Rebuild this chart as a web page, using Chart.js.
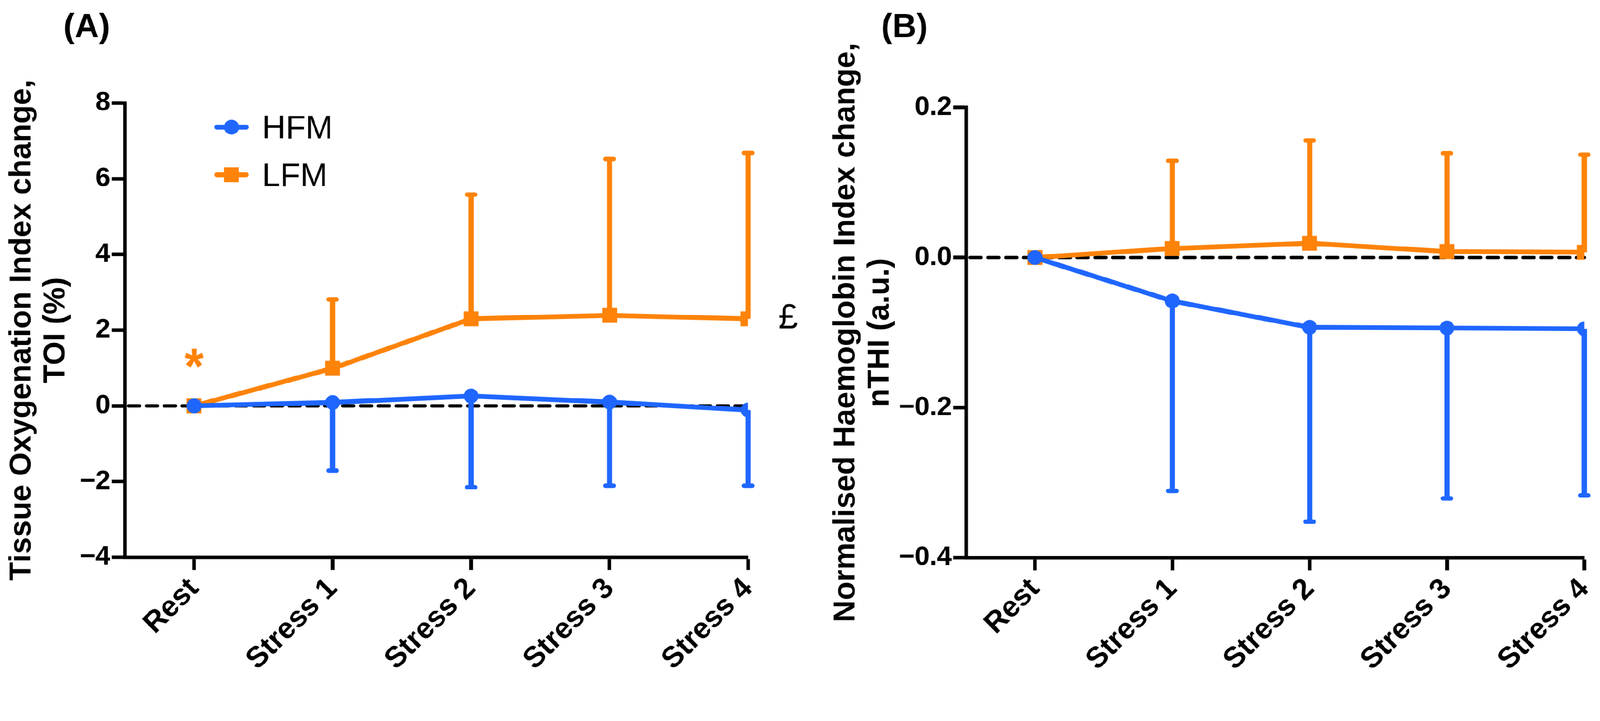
<!DOCTYPE html>
<html>
<head>
<meta charset="utf-8">
<title>TOI and nTHI change, HFM vs LFM</title>
<script src="https://cdn.jsdelivr.net/npm/chart.js@4.4.1/dist/chart.umd.min.js"></script>
<style>
  html, body { margin: 0; padding: 0; background: #fff; overflow: hidden; }
  #wrap { position: relative; width: 4307px; height: 1845px; overflow: hidden; transform-origin: 0 0; }
  canvas { position: absolute; top: 0; }
  #chartA { left: 0; }
  #chartB { left: 2150px; }
</style>
</head>
<body>
<div id="wrap">
  <canvas id="chartA" width="2150" height="1845"></canvas>
  <canvas id="chartB" width="2250" height="1845"></canvas>
</div>
<script>
const FONT = '"Liberation Sans", Arial, Helvetica, sans-serif';
const BLUE = "#1f66ff";
const ORANGE = "#fd8309";

// x categories (both panels)
const stages = ["Rest", "Stress 1", "Stress 2", "Stress 3", "Stress 4"];

// (A) tissue oxygenation index change, %
const toiHFM = [0, 0.09, 0.26, 0.10, -0.11];
const toiHFMErr = [0, -1.71, -2.15, -2.11, -2.11]; // end of one-sided error bar
const toiLFM = [0, 0.99, 2.30, 2.39, 2.30];
const toiLFMErr = [0, 2.81, 5.58, 6.52, 6.68];
const toiTicks = [-4, -2, 0, 2, 4, 6, 8];

// (B) normalised haemoglobin index change, a.u.
const thiHFM = [0, -0.058, -0.093, -0.094, -0.095];
const thiHFMErr = [0, -0.311, -0.352, -0.321, -0.317];
const thiLFM = [0, 0.012, 0.019, 0.008, 0.007];
const thiLFMErr = [0, 0.129, 0.156, 0.139, 0.137];
const thiTicks = [-0.4, -0.2, 0, 0.2];

// significance marks in panel A (x = category index, y = data value)
const toiMarks = [
  { x: 0, y: 0.97, text: "*", color: ORANGE, weight: "bold", size: 135 },
  { x: 4.29, y: 2.3, text: "\u00a3", color: "#000", weight: "normal", size: 94 },
];

// the figure is laid out at 4307 px wide; fit it to whatever the window really is
const S = window.innerWidth / 4307;
document.getElementById("wrap").style.transform = "scale(" + S + ")";
const DPR = (window.devicePixelRatio || 1) * S;

function fmt(v, dec) {
  const s = Math.abs(v).toFixed(dec);
  return v < 0 ? "\u2212" + s : s;
}

// dashed zero line + error bars, under the lines
const underlay = {
  id: "underlay",
  beforeDatasetsDraw(chart) {
    const { ctx, chartArea, scales } = chart;
    const y0 = scales.y.getPixelForValue(0);
    ctx.save();
    ctx.strokeStyle = "#000";
    ctx.lineWidth = 9;
    ctx.lineCap = "round";
    ctx.setLineDash([30, 18]);
    ctx.beginPath();
    ctx.moveTo(chartArea.left + 10, y0);
    ctx.lineTo(chartArea.right, y0);
    ctx.stroke();
    ctx.setLineDash([]);

    chart.data.datasets.forEach(ds => {
      ctx.strokeStyle = ds.borderColor;
      ds.data.forEach((p, i) => {
        const end = ds.err[i];
        if (end === p.y) return;
        const x = scales.x.getPixelForValue(p.x);
        const ya = scales.y.getPixelForValue(p.y);
        const yb = scales.y.getPixelForValue(end);
        ctx.lineWidth = 14;
        ctx.lineCap = "butt";
        ctx.beginPath();
        ctx.moveTo(x, ya);
        ctx.lineTo(x, yb);
        ctx.stroke();
        ctx.lineWidth = 12;
        ctx.lineCap = "round";
        ctx.beginPath();
        ctx.moveTo(x - 11, yb);
        ctx.lineTo(x + 11, yb);
        ctx.stroke();
      });
    });
    ctx.restore();
  }
};

// legend inside the plot, panel label, annotations
const overlay = {
  id: "overlay",
  afterDraw(chart, args, opts) {
    const { ctx, scales } = chart;
    ctx.save();
    ctx.fillStyle = "#000";
    ctx.textAlign = "left";
    ctx.textBaseline = "alphabetic";
    ctx.font = "bold 90px " + FONT;
    ctx.fillText(opts.panel, opts.panelX, 100);

    if (opts.legend) {
      const lg = opts.legend;
      chart.data.datasets.forEach((ds, i) => {
        const y = lg.y + i * lg.gap;
        ctx.strokeStyle = ds.borderColor;
        ctx.fillStyle = ds.backgroundColor;
        ctx.lineWidth = 13;
        ctx.lineCap = "round";
        ctx.beginPath();
        ctx.moveTo(lg.x - 40, y);
        ctx.lineTo(lg.x + 40, y);
        ctx.stroke();
        if (ds.pointStyle === "rect") {
          ctx.fillRect(lg.x - 20, y - 20, 40, 40);
        } else {
          ctx.beginPath();
          ctx.arc(lg.x, y, 20, 0, Math.PI * 2);
          ctx.fill();
        }
        ctx.fillStyle = "#000";
        ctx.font = "88px " + FONT;
        ctx.fillText(ds.label, lg.textX, y + 30);
      });
    }

    (opts.marks || []).forEach(m => {
      ctx.fillStyle = m.color;
      ctx.font = m.weight + " " + m.size + "px " + FONT;
      ctx.textAlign = "center";
      ctx.textBaseline = "middle";
      ctx.fillText(m.text, scales.x.getPixelForValue(m.x), scales.y.getPixelForValue(m.y));
    });
    ctx.restore();
  }
};

function series(vals) {
  return vals.map((v, i) => ({ x: i, y: v }));
}

function panel(id, p) {
  return new Chart(document.getElementById(id), {
    type: "line",
    data: {
      datasets: [
        {
          label: "HFM", data: series(p.hfm), err: p.hfmErr,
          borderColor: BLUE, backgroundColor: BLUE, borderWidth: 13,
          pointStyle: "circle", pointRadius: 20, pointBorderWidth: 0,
          pointBackgroundColor: BLUE
        },
        {
          label: "LFM", data: series(p.lfm), err: p.lfmErr,
          borderColor: ORANGE, backgroundColor: ORANGE, borderWidth: 13,
          pointStyle: "rect", pointRadius: 28.3, pointBorderWidth: 0,
          pointBackgroundColor: ORANGE
        }
      ]
    },
    options: {
      responsive: false,
      maintainAspectRatio: false,
      devicePixelRatio: DPR,
      animation: false,
      layout: { padding: { top: p.top, right: p.right, left: 0, bottom: 0 } },
      plugins: {
        legend: { display: false },
        tooltip: { enabled: false },
        overlay: { panel: p.panel, panelX: p.panelX, legend: p.legend, marks: p.marks }
      },
      scales: {
        x: {
          type: "linear",
          min: -0.5,
          max: stages.length - 1,
          afterBuildTicks: s => { s.ticks = stages.map((_, i) => ({ value: i })); },
          afterFit: s => { s.height = p.xHeight; },
          ticks: {
            callback: v => stages[v],
            font: { family: FONT, size: 79, weight: "bold" }, color: "#000",
            minRotation: 45, maxRotation: 45, autoSkip: false, padding: 4
          },
          grid: { drawOnChartArea: false, drawTicks: true, tickLength: 34, tickWidth: 10, tickColor: "#000" },
          border: { display: true, width: 10, color: "#000" }
        },
        y: {
          min: p.yMin,
          max: p.yMax,
          afterBuildTicks: s => { s.ticks = p.yTicks.map(v => ({ value: v })); },
          afterFit: s => { s.width = p.yWidth; },
          ticks: { callback: v => fmt(v, p.dec), font: { family: FONT, size: 72, weight: "bold" }, color: "#000", padding: 4 },
          grid: { drawOnChartArea: false, drawTicks: true, tickLength: 35, tickWidth: 10, tickColor: "#000" },
          border: { display: true, width: 10, color: "#000" },
          title: {
            display: true, text: p.yTitle, color: "#000",
            font: { family: FONT, size: 82, weight: "bold", lineHeight: 1.12 },
            padding: { top: p.titlePad, bottom: 0 }
          }
        }
      }
    },
    plugins: [underlay, overlay]
  });
}

panel("chartA", {
  hfm: toiHFM, hfmErr: toiHFMErr, lfm: toiLFM, lfmErr: toiLFMErr,
  yMin: -4, yMax: 8, yTicks: toiTicks, dec: 0,
  yTitle: ["Tissue Oxygenation Index change,", "TOI (%)"],
  top: 277, right: 137, xHeight: 346, yWidth: 336, titlePad: 13,
  panel: "(A)", panelX: 171,
  legend: { x: 623, y: 342, gap: 128, textX: 705 },
  marks: toiMarks
});

panel("chartB", {
  hfm: thiHFM, hfmErr: thiHFMErr, lfm: thiLFM, lfmErr: thiLFMErr,
  yMin: -0.4, yMax: 0.2, yTicks: thiTicks, dec: 1,
  yTitle: ["Normalised Haemoglobin Index change,", "nTHI (a.u.)"],
  top: 289, right: 136, xHeight: 345, yWidth: 451, titlePad: 82,
  panel: "(B)", panelX: 222,
  legend: null,
  marks: []
});
</script>
</body>
</html>
